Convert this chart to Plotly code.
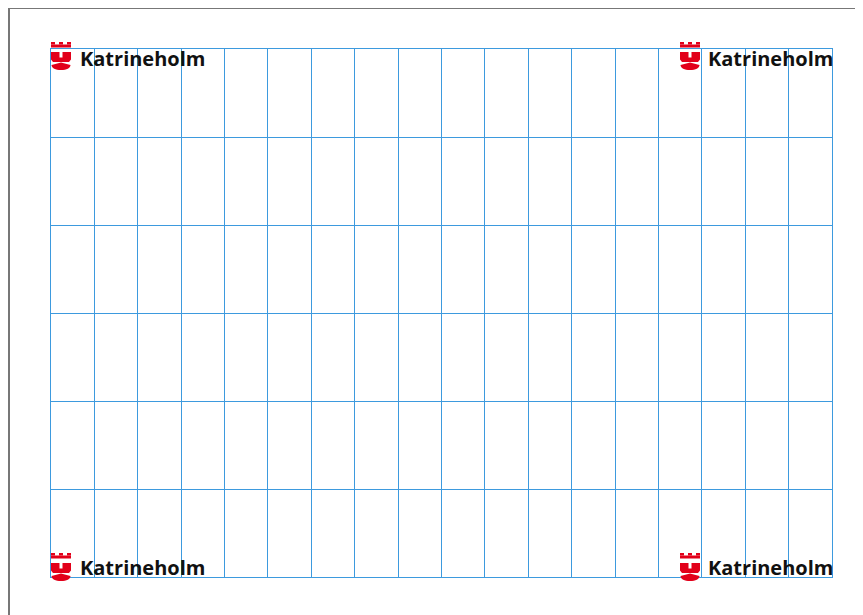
import base64
import plotly.graph_objects as go

# ---- data (grid structure and labels) ----
column_edges = list(range(0, 19))   # 18 columns
row_edges = list(range(0, 7))       # 6 rows
logo_text = "Katrineholm"
logo_corners = ["top-left", "top-right", "bottom-left", "bottom-right"]

OFF = 8  # page body margin
W, H = 863, 615
L, T = 51 - OFF, 49 - OFF
R = W - (832 - OFF)
B = H - (577 - OFF)
PW, PH = W - L - R, H - T - B

def px2x(px):
    return (px - OFF - L) / PW

def py2y(py):
    return (H - B - (py - OFF)) / PH

RED = "#e2001a"
svg = (
    '<svg xmlns="http://www.w3.org/2000/svg" width="20" height="28" viewBox="0 0 20 28">'
    f'<g fill="{RED}">'
    '<rect x="0" y="0" width="4" height="2.5"/>'
    '<rect x="8" y="0" width="4" height="2.5"/>'
    '<rect x="16" y="0" width="4" height="2.5"/>'
    '<rect x="0" y="2.5" width="20" height="3"/>'
    '<path d="M0 10 H8.5 V15.5 H11.5 V10 H20 V17.5 L18 20 H2 L0 17.5 Z"/>'
    '<path d="M0.5 23 L10 20.5 L19.5 23 C19.5 26 15.5 28 10 28 C4.5 28 0.5 26 0.5 23 Z"/>'
    '</g></svg>'
)
svg_uri = "data:image/svg+xml;base64," + base64.b64encode(svg.encode()).decode()

positions = {
    "top-left": (51, 42, 79, 58),
    "top-right": (680, 42, 707, 58),
    "bottom-left": (51, 553, 79, 567),
    "bottom-right": (680, 553, 707, 567),
}

fig = go.Figure()

images = []
annotations = []
for c in logo_corners:
    ix, iy, tx, ty = positions[c]
    images.append(dict(
        source=svg_uri, xref="paper", yref="paper",
        x=px2x(ix), y=py2y(iy), sizex=20 / PW, sizey=28 / PH,
        xanchor="left", yanchor="top", sizing="stretch", layer="above",
    ))
    annotations.append(dict(
        text=f"<b>{logo_text}</b>", xref="paper", yref="paper",
        x=px2x(tx), y=py2y(ty), xanchor="left", yanchor="middle",
        showarrow=False, font=dict(family="Open Sans", size=20, color="#111111"),
        borderpad=0,
    ))

GRID = "#3d9ade"
axis_common = dict(
    showticklabels=False, ticks="", zeroline=False,
    showgrid=True, gridcolor=GRID, gridwidth=1,
    showline=True, mirror=True, linecolor=GRID, linewidth=1,
    fixedrange=True,
)

fig.update_layout(
    width=W, height=H, autosize=False,
    margin=dict(l=L, r=R, t=T, b=B, pad=0),
    paper_bgcolor="white", plot_bgcolor="white",
    xaxis=dict(range=[column_edges[0], column_edges[-1]], tickmode="array",
               tickvals=column_edges, **axis_common),
    yaxis=dict(range=[row_edges[0], row_edges[-1]], tickmode="array",
               tickvals=row_edges, **axis_common),
    images=images,
    annotations=annotations,
    shapes=[dict(type="rect", xref="paper", yref="paper",
                 x0=px2x(9), y1=py2y(8), x1=px2x(W + 50), y0=py2y(H + 50),
                 line=dict(color="#777777", width=2), layer="below")],
    showlegend=False,
)

fig.write_html("out.html")
